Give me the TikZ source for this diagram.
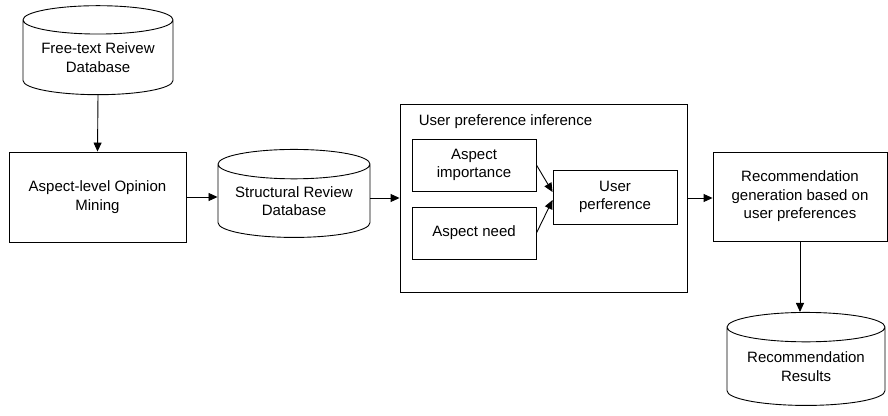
\documentclass[tikz,border=0pt]{standalone}
\usepackage{fontspec}
\setmainfont{Liberation Sans}
\usetikzlibrary{shapes.geometric,arrows.meta}

\begin{document}
\begin{tikzpicture}[x=1pt,y=-1pt,
		font=\fontsize{15}{18.5}\selectfont,
		every path/.style={line width=0.9pt},
		>={Triangle[length=9pt,width=8pt]},
		box/.style={draw, rectangle, align=center, inner sep=0pt},
		db/.style={draw, cylinder, shape border rotate=90, aspect=0.25, align=center, inner sep=0pt}]

		\useasboundingbox (0,0) rectangle (888,415);

		\node (freetext) at (98,57.5) [db, minimum width=150pt, minimum height=89pt] {Free-text Reivew\\Database};
		\node (mining) at (97.5,197) [box, minimum width=177pt, minimum height=90pt] {Aspect-level Opinion\\Mining};
		\node (structural) at (294,201) [db, minimum width=152pt, minimum height=88pt] {Structural Review\\Database};

		\node (infer) at (543.5,198) [box, minimum width=287pt, minimum height=188pt] {};
		\node (title) at (415,122) [anchor=west] {User preference inference};
		\node (importance) at (474,165) [box, minimum width=124pt, minimum height=52pt] {Aspect\\importance};
		\node (need) at (474,233) [box, minimum width=124pt, minimum height=52pt] {Aspect need};
		\node (userpref) at (615,197) [box, minimum width=124pt, minimum height=54pt] {User\\perference};

		\node (recgen) at (800,196.5) [box, minimum width=174pt, minimum height=89pt] {Recommendation\\generation based on\\user preferences};
		\node (results) at (806,366.5) [db, minimum width=158pt, minimum height=93pt] {Recommendation\\Results};

		\draw[->] (freetext.south) -- (mining.north);
		\draw[->] (mining.east) -- (mining.east -| structural.west);
		\draw[->] (infer.west -| structural.east) -- (infer.west);
		\draw[->] (importance.east) -- ([yshift=5pt]userpref.west);
		\draw[->] (need.east) -- ([yshift=-3pt]userpref.west);
		\draw[->] (infer.east) -- (infer.east -| recgen.west);
		\draw[->] (recgen.south) -- (recgen.south |- results.north);

\end{tikzpicture}
\end{document}
